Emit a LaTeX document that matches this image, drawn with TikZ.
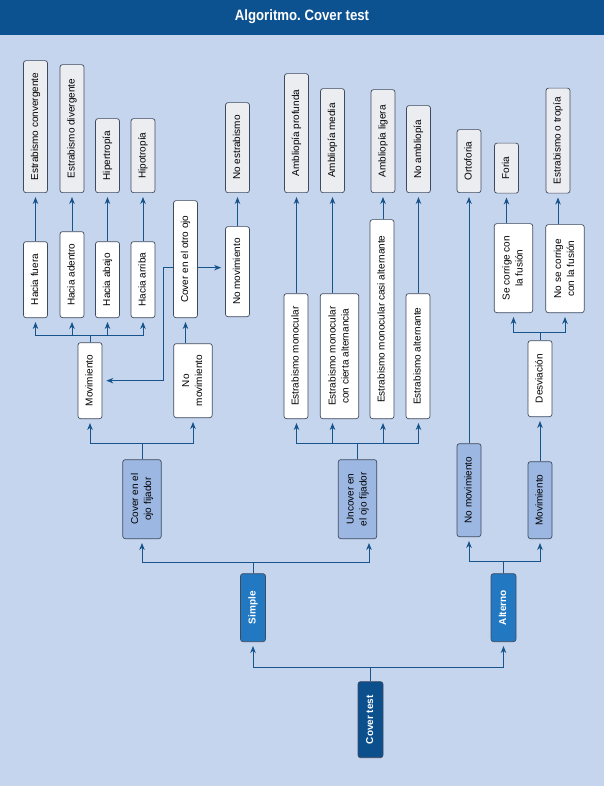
\documentclass[tikz,border=0pt]{standalone}
\usepackage{fontspec}
\setmainfont{Liberation Sans}
\usepackage{tikz}
\usetikzlibrary{arrows,arrows.meta,positioning,calc}
\frenchspacing

\definecolor{fondo}{RGB}{198,213,238}
\definecolor{barra}{RGB}{12,82,145}
\definecolor{linea}{RGB}{24,84,140}
\definecolor{borde}{RGB}{62,74,94}
\definecolor{gris}{RGB}{236,237,240}
\definecolor{medio}{RGB}{156,183,226}
\definecolor{azul}{RGB}{34,121,194}
\definecolor{oscuro}{RGB}{11,79,140}

\newcommand{\vt}[1]{\rotatebox{90}{\begin{tabular}{@{}c@{}}#1\end{tabular}}}

\begin{document}
\begin{tikzpicture}[->,>={Stealth[length=7pt,width=5.5pt,inset=2.2pt]},shorten >=4pt,x=1pt,y=-1pt,line width=0.9pt,
			font=\fontsize{10}{13}\selectfont]
			\tikzstyle{every edge}=[draw=linea]
			\tikzstyle{caja}=[draw=borde,line width=0.7pt,rounded corners=2.5pt,inner sep=0pt,anchor=south,minimum width=24pt,text=black]
			\tikzstyle{doble}=[minimum width=38.5pt]
			\tikzstyle{final}=[caja,fill=gris]
			\tikzstyle{paso}=[caja,fill=white]
			\tikzstyle{prueba}=[caja,fill=medio]
			\tikzstyle{tipo}=[caja,fill=azul,text=white,minimum width=25pt,font=\fontsize{10}{13}\selectfont\bfseries]
			\tikzstyle{raiz}=[tipo,fill=oscuro]
			
			\fill[fondo,-] (0,0) rectangle (604,786);
			\fill[barra,-] (0,0) rectangle (604,35);
			\node[text=white,font=\fontsize{15}{17}\selectfont\bfseries\addfontfeatures{FakeStretch=0.88}] (TT) at (302,17) {Algoritmo. Cover test};
			
			\node[final, minimum height=132pt] (EC) at (35.5,193) {\vt{Estrabismo convergente}};
			
			\node[final, minimum height=128pt] (ED) at (72,193) {\vt{Estrabismo divergente}};
			
			\node[final, minimum height=74pt] (HT) at (107.5,193) {\vt{Hipertropía}};
			
			\node[final, minimum height=74pt] (HO) at (143,193) {\vt{Hipotropía}};
			
			\node[final, minimum height=90pt] (NE) at (237.5,193) {\vt{No estrabismo}};
			
			\node[final, minimum height=119pt] (AP) at (296.5,193) {\vt{Ambliopía profunda}};
			
			\node[final, minimum height=104pt] (AM) at (332.5,193) {\vt{Ambliopía media}};
			
			\node[final, minimum height=103pt] (AL) at (383,193) {\vt{Ambliopía ligera}};
			
			\node[final, minimum height=87pt] (NA) at (418.5,193) {\vt{No ambliopía}};
			
			\node[final, minimum height=63pt] (OR) at (469,193) {\vt{Ortoforia}};
			
			\node[final, minimum height=50pt] (FO) at (506.5,193.5) {\vt{Foria}};
			
			\node[final, minimum height=105pt] (ET) at (558,193.5) {\vt{Estrabismo o tropía}};
			
			\node[paso, minimum height=76pt] (HF) at (35.5,318) {\vt{Hacia fuera}};
			
			\node[paso, minimum height=86pt] (HA) at (72,318) {\vt{Hacia adentro}};
			
			\node[paso, minimum height=76pt] (HB) at (107.5,318) {\vt{Hacia abajo}};
			
			\node[paso, minimum height=76pt] (HR) at (143,318) {\vt{Hacia arriba}};
			
			\node[paso, minimum height=117pt] (CO) at (185.5,318) {\vt{Cover en el otro ojo}};
			
			\node[paso, minimum height=90pt] (NM1) at (237.5,317) {\vt{No movimiento}};
			
			\node[paso, minimum height=125pt] (EM) at (296,419) {\vt{Estrabismo monocular}};
			
			\node[paso, doble, minimum height=125pt] (EA) at (339.5,419) {\vt{Estrabismo monocular\\con cierta alternancia}};
			
			\node[paso, minimum height=199pt] (EQ) at (382,419) {\vt{Estrabismo monocular casi alternante}};
			
			\node[paso, minimum height=125pt] (EL) at (418,419) {\vt{Estrabismo alternante}};
			
			\node[paso, doble, minimum height=89pt] (SC) at (513.5,313) {\vt{Se corrige con\\la fusión}};
			
			\node[paso, doble, minimum height=88pt] (NC) at (565,313) {\vt{No se corrige\\con la fusión}};
			
			\node[paso, minimum height=76pt] (MO) at (90,419) {\vt{Movimiento}};
			
			\node[paso, doble, minimum height=74pt] (NM2) at (193,418) {\vt{No\\movimiento}};
			
			\node[paso, minimum height=76pt] (DE) at (540,417) {\vt{Desviación}};
			
			\node[prueba, doble, minimum height=79pt] (CF) at (142,539) {\vt{Cover en el\\ojo fijador}};
			
			\node[prueba, doble, minimum height=79pt] (UF) at (357.5,539) {\vt{Uncover en\\el ojo fijador}};
			
			\node[prueba, minimum height=93pt] (NM3) at (469,537) {\vt{No movimiento}};
			
			\node[prueba, minimum height=77pt] (MV) at (540,539) {\vt{Movimiento}};
			
			\node[tipo, minimum height=68pt] (SI) at (253,642) {\vt{Simple}};
			
			\node[tipo, minimum height=68pt] (AT) at (503.5,642) {\vt{Alterno}};
			
			\node[raiz, minimum height=76pt] (CT) at (370.5,758) {\vt{Cover test}};
			
			\path
			
			(HF) edge (EC)
			
			(HA) edge (ED)
			
			(HB) edge (HT)
			
			(HR) edge (HO)
			
			(NM1) edge (NE)
			
			(EM.north -| AP.south) edge (AP.south)
			
			(EA.north -| AM.south) edge (AM.south)
			
			(EQ.north -| AL.south) edge (AL.south)
			
			(EL.north -| NA.south) edge (NA.south)
			
			(NM3) edge (OR)
			
			(SC.north -| FO.south) edge (FO.south)
			
			(NC.north -| ET.south) edge (ET.south)
			
			(MV) edge (DE)
			
			(NM2.north -| CO.south) edge (CO.south);
			
			\draw[linea] (CT.north) -- ++(0,-14) -| (SI.south);
			\draw[linea] (CT.north) -- ++(0,-14) -| (AT.south);
			\draw[linea] (SI.north) -- ++(0,-11) -| (CF.south);
			\draw[linea] (SI.north) -- ++(0,-11) -| ([xshift=11.5pt]UF.south);
			\draw[linea] (AT.north) -- ++(0,-12) -| (NM3.south);
			\draw[linea] (AT.north) -- ++(0,-12) -| (MV.south);
			\draw[linea] (CF.north) -- ++(0,-16) -| (MO.south);
			\draw[linea] (CF.north) -- ++(0,-16) -| (NM2.south);
			\draw[linea] (UF.north) -- ++(0,-16) -| (EM.south -| AP.south);
			\draw[linea] (UF.north) -- ++(0,-16) -| (EA.south -| AM.south);
			\draw[linea] (UF.north) -- ++(0,-16) -| (EQ.south -| AL.south);
			\draw[linea] (UF.north) -- ++(0,-16) -| (EL.south -| NA.south);
			\draw[linea] (MO.north) -- ++(0,-7) -| (HF.south);
			\draw[linea] (MO.north) -- ++(0,-7) -| (HA.south);
			\draw[linea] (MO.north) -- ++(0,-7) -| (HB.south);
			\draw[linea] (MO.north) -- ++(0,-7) -| (HR.south);
			\draw[linea] (DE.north) -- ++(0,-8) -| (SC.south);
			\draw[linea] (DE.north) -- ++(0,-8) -| (NC.south);
			\draw[linea] ([yshift=-8.5pt]CO.east) -- ([yshift=-8.5pt]CO.east -| NM1.west);
			\draw[linea] ([yshift=-8.5pt]CO.west) -- ++(-10,0) |- (MO.east);
			\end{tikzpicture}
\end{document}
